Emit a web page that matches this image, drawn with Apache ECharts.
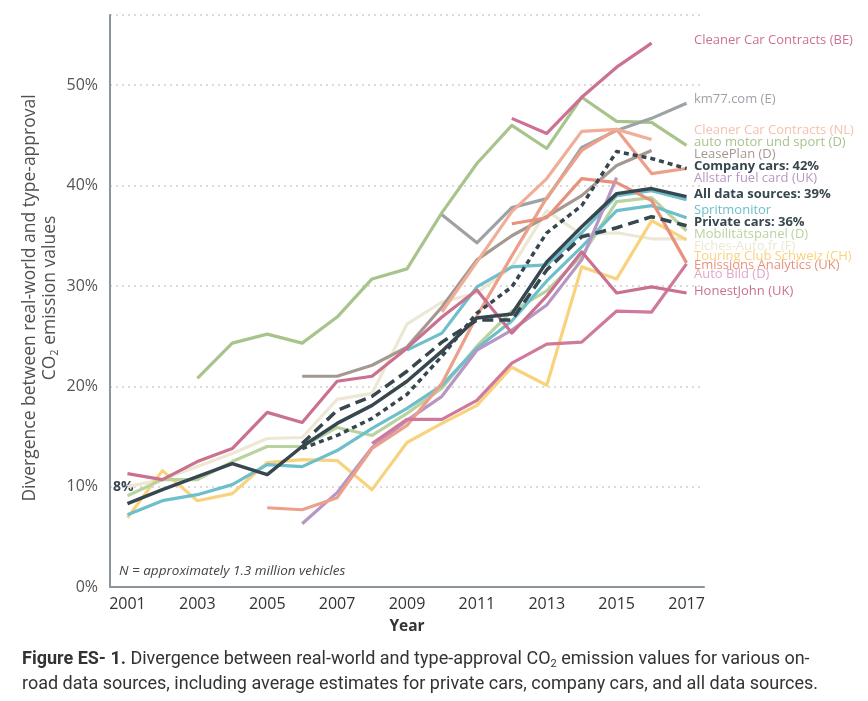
<!DOCTYPE html>
<html><head><meta charset="utf-8">
<script src="https://cdn.jsdelivr.net/npm/echarts@6/dist/echarts.min.js"></script>
<style>html,body{margin:0;padding:0;background:#fff}#c{width:868px;height:701px}</style>
</head><body><div id="c"></div>
<script>
const years = [2001,2002,2003,2004,2005,2006,2007,2008,2009,2010,2011,2012,2013,2014,2015,2016,2017];
const yTicks = [0,10,20,30,40,50];
const xTickYears = [2001,2003,2005,2007,2009,2011,2013,2015,2017];
const _ = null;
const cccBE      = [_,_,_,_,_,_,_,_,_,_,_,46.7,45.2,48.8,51.8,54.2,_];
const km77       = [_,_,_,_,_,_,_,_,_,37.1,34.3,37.8,38.7,43.8,45.5,46.7,48.2];
const cccNL      = [_,_,_,_,_,_,_,_,_,27.4,32.4,37.4,40.7,45.4,45.6,44.6,_];
const amus       = [_,_,20.8,24.3,25.2,24.3,26.9,30.7,31.7,37.3,42.2,46.0,43.7,48.8,46.4,46.3,44.0];
const leasePlan  = [_,_,_,_,_,21.0,21.0,22.1,23.9,27.9,32.6,35.0,36.9,39.0,42.0,43.5,_];
const company    = [_,_,_,_,_,13.8,15.1,16.8,19.2,23.0,27.3,29.9,35.3,38.0,43.4,42.7,41.7];
const allstar    = [_,_,_,_,_,6.3,9.4,13.9,16.6,19.0,23.6,25.6,28.1,32.6,40.8,_,_];
const allData    = [8.3,9.7,11.0,12.3,11.2,14.0,16.3,18.1,20.5,23.5,26.8,27.2,32.4,35.9,39.2,39.7,38.9];
const sprit      = [7.2,8.6,9.2,10.2,12.2,12.0,13.6,15.8,17.8,20.1,23.8,26.5,30.5,33.9,37.5,38.0,36.8];
const tealOther  = [_,_,_,_,_,_,_,_,23.6,25.3,29.9,31.9,32.1,35.3,39.0,39.5,38.6];
const privateC   = [_,_,_,_,_,14.3,17.6,19.0,21.5,24.4,26.6,26.6,31.6,34.9,35.8,36.9,36.0];
const mobil      = [9.1,10.7,10.7,12.5,14.0,14.0,15.9,15.1,17.3,19.8,24.0,27.5,29.5,33.0,38.4,38.8,35.5];
const fiches     = [10.0,10.7,12.0,13.3,14.8,14.9,18.7,19.3,26.2,28.4,29.3,31.9,37.5,35.1,35.3,34.7,34.7];
const tcs        = [6.9,11.6,8.6,9.3,12.4,12.7,12.6,9.7,14.4,16.3,18.1,21.9,20.1,31.9,30.7,36.5,34.6];
const emissions  = [_,_,_,_,_,_,_,_,_,_,_,36.2,36.8,40.7,40.3,38.5,32.3];
const salmonOther= [_,_,_,_,7.9,7.7,8.9,13.8,16.1,20.3,27.0,33.0,38.8,43.5,45.6,41.2,41.7];
const autoBild   = [_,_,_,_,_,_,_,14.3,16.7,16.7,18.6,22.3,24.2,24.4,27.5,27.4,32.2];
const honest     = [11.3,10.7,12.5,13.8,17.4,16.4,20.5,21.0,23.8,26.9,29.6,25.3,29.0,33.4,29.3,29.9,29.3];

// series definitions: name, data, colour, style, label text, label pixel y
const defs = [
  {n:'Fiches-Auto.fr (F)', d:fiches, c:'#ece8d4', lab:'Fiches-Auto.fr (F)', ly:249},
  {n:'Touring Club Schweiz (CH)', d:tcs, c:'#f9d27e', lab:'Touring Club Schweiz (CH)', ly:259},
  {n:'Mobilitätspanel (D)', d:mobil, c:'#b9d3a0', lab:'Mobilitätspanel (D)', ly:237},
  {n:'auto motor und sport (D)', d:amus, c:'#a8c48c', lab:'auto motor und sport (D)', ly:145},
  {n:'LeasePlan (D)', d:leasePlan, c:'#a59890', lab:'LeasePlan (D)', ly:157},
  {n:'km77.com (E)', d:km77, c:'#9da2a7', lab:'km77.com (E)', ly:102},
  {n:'Spritmonitor', d:sprit, c:'#6dbfcb', lab:'Spritmonitor', ly:213},
  {n:'teal source', d:tealOther, c:'#6dbfcb', lab:null},
  {n:'Allstar fuel card (UK)', d:allstar, c:'#b796c3', lab:'Allstar fuel card (UK)', ly:181},
  {n:'salmon source', d:salmonOther, c:'#eda089', lab:null},
  {n:'Cleaner Car Contracts (NL)', d:cccNL, c:'#f0ae99', lab:'Cleaner Car Contracts (NL)', ly:133, lc:'#f5c0ae'},
  {n:'Emissions Analytics (UK)', d:emissions, c:'#e8927d', lab:'Emissions Analytics (UK)', ly:268},
  {n:'Auto Bild (D)', d:autoBild, c:'#cf7a9c', lab:'Auto Bild (D)', ly:277, lc:'#e0a8c6'},
  {n:'HonestJohn (UK)', d:honest, c:'#c9718f', lab:'HonestJohn (UK)', ly:294},
  {n:'Cleaner Car Contracts (BE)', d:cccBE, c:'#cc7096', lab:'Cleaner Car Contracts (BE)', ly:43},
  {n:'Private cars', d:privateC, c:'#37474f', w:3.5, t:[11,6], lab:'Private cars: 36%', ly:225, b:true},
  {n:'Company cars', d:company, c:'#37474f', w:3.5, t:[5,4], lab:'Company cars: 42%', ly:169, b:true},
  {n:'All data sources', d:allData, c:'#37474f', w:3.5, lab:'All data sources: 39%', ly:197, b:true}
];

const chart = echarts.init(document.getElementById('c'), null, {renderer:'canvas'});
const FONT = '"Open Sans", "Noto Sans", sans-serif';
const series = defs.map(s => ({
  name: s.n, type:'line', symbol:'none', silent:true, connectNulls:false,
  data: years.map((y,i)=>[y, s.d[i]]),
  lineStyle:{color:s.c, width:s.w||3.2, type:s.t||'solid', cap:'butt', join:'round'},
  itemStyle:{color:s.c},
  z: s.b ? 5 : 3
}));

const graphics = [];
defs.forEach(s => {
  if (!s.lab) return;
  graphics.push({type:'text', left:694, top:s.ly-9, style:{text:s.lab, fill:s.lc||s.c, font:(s.b?'bold ':'')+'13px '+FONT}});
});
graphics.push({type:'text', left:113, top:480, style:{text:'8%', fill:'#37474f', font:'bold 14px '+FONT}});
graphics.push({type:'text', left:119, top:564, style:{text:'N = approximately 1.3 million vehicles', fill:'#444', font:'italic 13.5px '+FONT}});
graphics.push({type:'text', x:30, y:298, rotation:Math.PI/2, style:{text:'Divergence between real-world and type-approval', fill:'#505050', font:'500 17.5px '+FONT, align:'center', verticalAlign:'middle'}});
graphics.push({type:'text', x:50, y:298, rotation:Math.PI/2, style:{
  text:'{n|CO}{s|2}{n| emission values}', align:'center', verticalAlign:'middle',
  rich:{n:{fill:'#505050', font:'500 17.5px '+FONT}, s:{fill:'#505050', font:'11px '+FONT, padding:[9,0,0,0]}}}});
const CF = '"Roboto", sans-serif';
graphics.push({type:'text', left:22, top:650, style:{
  text:'{b|Figure ES- 1.}{n| Divergence between real-world and type-approval CO}{s|2}{n| emission values for various on-}',
  rich:{b:{font:'bold 18px '+CF, fill:'#333'}, n:{font:'18px '+CF, fill:'#333'}, s:{font:'11px '+CF, fill:'#333', padding:[10,0,0,0]}}}});
graphics.push({type:'text', left:22, top:675, style:{text:'road data sources, including average estimates for private cars, company cars, and all data sources.', font:'18px '+CF, fill:'#333'}});

chart.setOption({
  animation:false,
  grid:{left:110, right:164, top:15, bottom:114, containLabel:false},
  xAxis:{type:'value', min:2000.5, max:2017.5,
    axisLine:{show:true, lineStyle:{color:'#8c949b', width:2}},
    axisTick:{show:false}, splitLine:{show:false},
    axisLabel:{show:false},
    name:'Year', nameLocation:'middle', nameGap:32,
    nameTextStyle:{fontWeight:'bold', fontSize:15.5, color:'#333', fontFamily:FONT}},
  yAxis:{type:'value', min:0, max:57, interval:10,
    axisLine:{show:true, lineStyle:{color:'#8c949b', width:2}},
    axisTick:{show:false},
    splitLine:{show:true, lineStyle:{color:'#cfcfcf', type:[2,4], width:1.5}},
    axisLabel:{color:'#555', fontSize:16, fontFamily:FONT, margin:12,
      formatter:v => yTicks.includes(v) ? v+'%' : ''}},
  series: series,
  graphic: graphics
});
const xl = xTickYears.map(y => {
  const p = chart.convertToPixel({gridIndex:0}, [y, 0]);
  return {type:'text', x:p[0], y:p[1]+17, style:{text:String(y), fill:'#333', font:'16px '+FONT, align:'center', verticalAlign:'middle'}};
});
chart.setOption({graphic: graphics.concat(xl)}, {replaceMerge:['graphic']});
</script></body></html>
